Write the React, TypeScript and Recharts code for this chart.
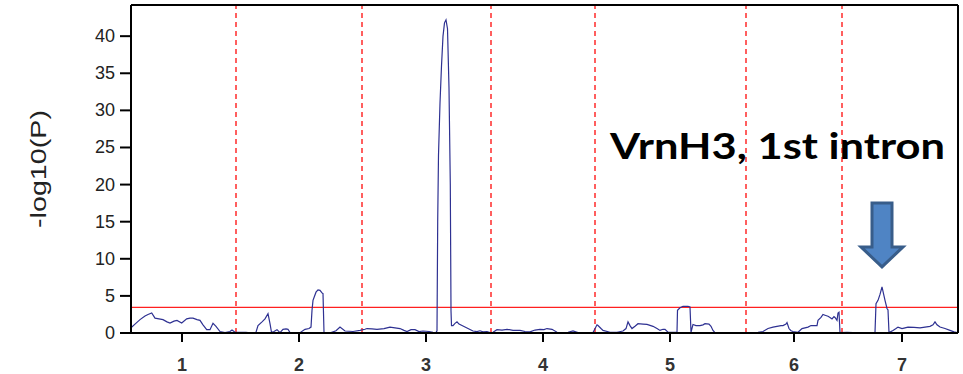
import React from 'react';
import {
  LineChart,
  Line,
  XAxis,
  YAxis,
  ReferenceLine,
  ReferenceDot
} from 'recharts';

// chromosome labels, their centre positions and the boundaries between them
const chromosomes = ['1', '2', '3', '4', '5', '6', '7'];
const chromCenters = [51, 168, 295, 412, 539, 663, 771];
const chromBounds = [105, 231, 360, 464, 615, 711];
const genomeEnd = 827;

const yTicks = [0, 5, 10, 15, 20, 25, 30, 35, 40];
const yMax = 44.2;
const threshold = 3.46;

// [position, -log10(P)] per chromosome
const chr1 = [[0, 0.7], [4, 1.2], [9, 1.8], [14, 2.3], [17, 2.5], [20.7, 2.7], [24, 2.0], [28, 1.9], [32, 1.8], [36, 1.5], [39, 1.35], [43, 1.6], [46, 1.7], [50.7, 1.35], [55.7, 1.9], [59, 2.0], [62, 2.0], [66, 1.8], [69, 1.7], [72, 1.1], [75.7, 0.45], [79, 0.45], [82, 1.3], [85, 0.9], [89, 0.2], [94, 0.05], [99, 0.2], [101, 0.4], [104, 0.1], [109, 0.1], [115, 0.1], [121, 0]];
const chr2 = [[125, 0.1], [127, 1.0], [131, 1.5], [134, 1.9], [137, 2.6], [139, 1.25], [140.5, 0.1], [143, 0.2], [146, 0.45], [149, 0.05], [152, 0.5], [155, 0.55], [157, 0.5], [159, 0.05], [169, 0.05], [174, 0.5], [178, 0.6], [180, 0.8], [181, 3.05], [182, 4.4], [185, 5.5], [187, 5.8], [189, 5.75], [191, 5.4], [192, 5.3], [193, 0.1], [200, 0.05], [205, 0.3], [209, 0.8], [214, 0.27], [222, 0.2], [229, 0.35]];
const chr3 = [[234, 0.5], [236, 0.6], [241, 0.55], [246, 0.5], [253, 0.6], [259, 0.8], [264, 0.7], [269, 0.6], [273, 0.35], [276, 0.2], [280, 0.45], [284, 0.45], [288, 0.2], [292, 0.27], [298, 0.2], [302, 0.1], [305, 0.05], [306, 0.3], [306.7, 15], [307.5, 24], [309, 31], [310.5, 36], [312, 40], [313.5, 41.8], [315, 42.2], [316.5, 41], [318, 33], [319.3, 20], [320, 3], [320.5, 1.0], [322, 1.0], [324, 1.3], [326, 1.5], [328, 1.2], [331, 1.0], [334, 0.8], [337, 0.6], [340, 0.4], [342, 0.27], [346, 0.2], [349, 0.3], [352, 0.15], [356, 0.2], [359, 0.05]];
const chr4 = [[362, 0.1], [366, 0.45], [371, 0.4], [376, 0.5], [382, 0.35], [389, 0.35], [394, 0.2], [399, 0.15], [404, 0.4], [409, 0.5], [413, 0.45], [416, 0.6], [421, 0.5], [426, 0.1], [432, 0.05], [437, 0.1], [442, 0.27], [447, 0.05], [456, 0.05], [462, 0.05]];
const chr5 = [[466, 1.1], [467, 1.0], [470, 0.6], [472, 0.35], [479, 0.1], [486, 0.1], [492, 0.27], [495, 0.6], [497, 1.5], [499, 1.0], [501, 0.6], [504, 0.9], [507, 1.25], [512, 1.2], [516, 1.15], [522, 0.9], [526, 0.6], [529, 0.35], [532, 0.5], [534, 0.5], [537, 0.1], [546, 0.1], [546.5, 3.05], [549, 3.4], [552, 3.6], [557, 3.6], [559, 3.5], [560, 0.1], [562, 1.15], [565, 1.0], [569, 1.0], [572, 1.1], [574, 1.25], [578, 1.2], [580, 0.9], [582, 0.35], [584, 0.05], [596, 0.05], [605, 0.05], [612, 0.05]];
const chr6 = [[618, 0.05], [622, 0.05], [627, 0.1], [632, 0.2], [637, 0.6], [642, 0.8], [646, 0.9], [650, 1.0], [652, 1.0], [655, 1.2], [656, 1.4], [658, 0.6], [660, 0.3], [662, 0.2], [667, 0.1], [671, 0.6], [674, 0.7], [677, 0.8], [680, 1.0], [684, 1.0], [686, 1.0], [687, 1.7], [690, 2.1], [692, 2.5], [694, 2.4], [697, 2.25], [699, 2.1], [701, 1.9], [703, 2.2], [704, 2.1], [706, 1.7], [707, 2.7], [708, 2.8], [709, 0.05]];
const chr7 = [[716, 0.1], [722, 0.05], [733, 0.05], [744, 0.05], [745, 3.95], [747, 4.4], [749, 5.2], [751, 6.2], [753, 5.0], [754, 4.4], [756, 3.3], [757, 3.1], [758, 0.05], [762, 0.35], [765, 0.6], [767, 0.8], [771, 0.6], [774, 0.7], [777, 0.8], [783, 0.75], [789, 0.7], [794, 0.8], [799, 0.9], [802, 1.1], [804, 1.5], [806, 1.1], [809, 0.8], [814, 0.6], [819, 0.35], [823, 0.15], [826, 0.05]];

const data = [chr1, chr2, chr3, chr4, chr5, chr6, chr7]
  .flat()
  .map(([pos, p]) => ({ pos, p }));

// annotation anchors (data coordinates)
const labelText = 'VrnH3, 1st intron';
const labelAt = { x: 479, y: 23.4 };
const arrowTip = { x: 751, y: 8.9 };
const yLabel = '-log10(P)';

const axisFont = "'Liberation Sans', Arial, sans-serif";

const AnnotationLabel = (props: any) => (
  <text
    x={props.cx}
    y={props.cy}
    fontFamily="Lato, 'Open Sans', sans-serif"
    fontWeight="bold"
    fontSize={37}
    fill="#000"
    textLength={335}
    lengthAdjust="spacingAndGlyphs"
  >
    {labelText}
  </text>
);

const DownArrow = (props: any) => {
  const { cx, cy } = props;
  const pts = [
    [cx, cy],
    [cx - 21, cy - 20],
    [cx - 10, cy - 20],
    [cx - 10, cy - 64],
    [cx + 10, cy - 64],
    [cx + 10, cy - 20],
    [cx + 21, cy - 20]
  ]
    .map((p) => p.join(','))
    .join(' ');
  return <polygon points={pts} fill="#4F84C4" stroke="#385D8A" strokeWidth={3} strokeLinejoin="miter" />;
};

const YLabel = (props: any) => {
  const vb = props.viewBox || { x: 71, y: 5, width: 60, height: 328 };
  const cx = vb.x - 33;
  const cy = vb.y + vb.height / 2;
  return (
    <text
      x={cx}
      y={cy}
      transform={`rotate(-90, ${cx}, ${cy})`}
      textAnchor="middle"
      dominantBaseline="central"
      fontSize={22}
      fontFamily={axisFont}
      fill="#222"
      textLength={118}
      lengthAdjust="spacingAndGlyphs"
    >
      {yLabel}
    </text>
  );
};

const YTick = (props: any) => {
  const { x, y, payload } = props;
  return (
    <text
      x={x}
      y={y}
      textAnchor="end"
      dominantBaseline="central"
      fontSize={18}
      fontFamily={axisFont}
      fill="#222"
    >
      {payload.value}
    </text>
  );
};

const XTick = (props: any) => {
  const { x, y, payload } = props;
  const label = chromosomes[chromCenters.indexOf(payload.value)] ?? '';
  return (
    <text
      x={x}
      y={y}
      dy="0.72em"
      textAnchor="middle"
      fontSize={18}
      fontWeight="bold"
      fontFamily={axisFont}
      fill="#333"
    >
      {label}
    </text>
  );
};

export default function App() {
  return (
    <div style={{ position: 'absolute', left: 0, top: 0, background: '#fff' }}>
      <LineChart
        width={963}
        height={374}
        data={data}
        margin={{ top: 5, right: 5, left: 71, bottom: 1 }}
      >
        <XAxis
          dataKey="pos"
          type="number"
          domain={[0, genomeEnd]}
          ticks={chromCenters}
          tick={XTick}
          tickSize={9}
          tickMargin={16}
          stroke="#000"
          strokeWidth={2}
          tickLine={{ stroke: '#000', strokeWidth: 2 }}
          height={40}
        />
        <YAxis
          type="number"
          domain={[0, yMax]}
          ticks={yTicks}
          allowDataOverflow
          tick={YTick}
          tickSize={11}
          tickMargin={5}
          stroke="#000"
          strokeWidth={2}
          tickLine={{ stroke: '#000', strokeWidth: 2 }}
          width={60}
          label={{ content: YLabel }}
        />
        {chromBounds.map((b) => (
          <ReferenceLine key={b} x={b} stroke="#FF2A2A" strokeWidth={1.5} strokeDasharray="5 4" />
        ))}
        <ReferenceLine y={threshold} stroke="#FF2020" strokeWidth={1.3} />
        <ReferenceLine y={yMax} stroke="#000" strokeWidth={2} />
        <ReferenceLine x={genomeEnd} stroke="#000" strokeWidth={2} />
        <Line
          type="linear"
          dataKey="p"
          stroke="#2E3192"
          strokeWidth={1.2}
          dot={false}
          isAnimationActive={false}
        />
        <ReferenceDot x={labelAt.x} y={labelAt.y} shape={AnnotationLabel} />
        <ReferenceDot x={arrowTip.x} y={arrowTip.y} shape={DownArrow} />
      </LineChart>
    </div>
  );
}
